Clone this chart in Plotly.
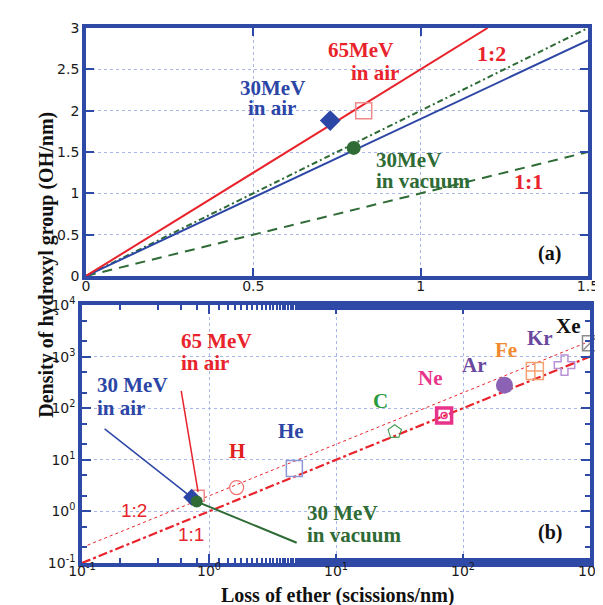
import numpy as np
import plotly.graph_objects as go

# ---------------- data: panel (a) ----------------
line12_x = [0.0, 1.2]          # 65 MeV in air fit (red)
line12_y = [0.0, 3.0]
air30_line_x = [0.0, 1.5]      # 30 MeV in air fit (blue)
air30_line_y = [0.0, 2.85]
vac30_line_x = [0.0, 1.5]      # 30 MeV in vacuum fit (green dash-dot)
vac30_line_y = [0.0, 3.0]
line11_x = [0.0, 1.5]          # 1:1 line (green dashed)
line11_y = [0.0, 1.5]

air30_pt = (0.73, 1.88)
air65_pt = (0.83, 2.00)
vac30_pt = (0.80, 1.55)

# ---------------- data: panel (b) ----------------
b_line_x = [0.1, 1000.0]
b_line12_y = [0.2, 2000.0]
b_line11_y = [0.1, 1000.0]

ions = ["H", "He", "C", "Ne", "Ar", "Fe", "Kr", "Xe"]
ion_x = [1.65, 4.7, 29.0, 71.0, 212.0, 368.0, 630.0, 1000.0]
ion_y = [2.9, 6.8, 35.0, 72.0, 280.0, 525.0, 684.0, 1820.0]

x_ticks_a = [0, 0.5, 1, 1.5]
x_tick_text_a = ["0", "0.5", "1", "1.5"]
y_ticks_a = [0, 0.5, 1, 1.5, 2, 2.5, 3]
y_tick_text_a = ["0", "0.5", "1", "1.5", "2", "2.5", "3"]
x_ticks_b = [0.1, 1, 10, 100, 1000]
x_tick_text_b = ["10<sup>-1</sup>", "10<sup>0</sup>", "10<sup>1</sup>", "10<sup>2</sup>", "10<sup>3</sup>"]
y_ticks_b = [0.1, 1, 10, 100, 1000, 10000]
y_tick_text_b = ["10<sup>-1</sup>", "10<sup>0</sup>", "10<sup>1</sup>", "10<sup>2</sup>", "10<sup>3</sup>", "10<sup>4</sup>"]

# ---------------- styles ----------------
FRAME = "#2e4aa6"
GRID = "#a9b6e6"
RED = "#e8232b"
BLUE = "#2c46a6"
GREEN = "#2e6b35"
SERIF = "Liberation Serif"
SANS = "DejaVu Sans"

fig = go.Figure()

# panel (a) lines
fig.add_trace(go.Scatter(x=line11_x, y=line11_y, mode="lines", line=dict(color=GREEN, width=2, dash="10px,7px"), xaxis="x", yaxis="y"))
fig.add_trace(go.Scatter(x=vac30_line_x, y=vac30_line_y, mode="lines", line=dict(color=GREEN, width=2, dash="6px,3px,2px,3px"), xaxis="x", yaxis="y"))
fig.add_trace(go.Scatter(x=air30_line_x, y=air30_line_y, mode="lines", line=dict(color=BLUE, width=2), xaxis="x", yaxis="y"))
fig.add_trace(go.Scatter(x=line12_x, y=line12_y, mode="lines", line=dict(color=RED, width=2), xaxis="x", yaxis="y"))
# panel (a) points
fig.add_trace(go.Scatter(x=[air30_pt[0]], y=[air30_pt[1]], mode="markers", marker=dict(symbol="diamond", size=16, color=BLUE), xaxis="x", yaxis="y"))
fig.add_trace(go.Scatter(x=[air65_pt[0]], y=[air65_pt[1]], mode="markers", marker=dict(symbol="square-open", size=16, color="#f08a8a", line=dict(width=1.5)), xaxis="x", yaxis="y"))
fig.add_trace(go.Scatter(x=[vac30_pt[0]], y=[vac30_pt[1]], mode="markers", marker=dict(symbol="circle", size=14, color=GREEN), xaxis="x", yaxis="y"))

# panel (b) lines
fig.add_trace(go.Scatter(x=b_line_x, y=b_line12_y, mode="lines", line=dict(color=RED, width=1, dash="dot"), xaxis="x2", yaxis="y2"))
fig.add_trace(go.Scatter(x=b_line_x, y=b_line11_y, mode="lines", line=dict(color=RED, width=2.2, dash="dashdot"), xaxis="x2", yaxis="y2"))

# panel (b) ion points
ion_symbols = ["circle-open", "square-open", "pentagon-open", "square-open", "circle", "square-cross-open", "cross-open", "square-open"]
ion_colors = ["#f07070", "#8a98d8", "#4aa05a", "#e8338a", "#8c62b4", "#f4a070", "#b890d8", "#8a8a8a"]
ion_sizes = [14, 16, 14, 15, 17, 17, 17, 15]
ion_lw = [1.2, 1.5, 1.2, 3.5, 0, 1.5, 1.5, 1.5]
for i in range(len(ions)):
    fig.add_trace(go.Scatter(x=[ion_x[i]], y=[ion_y[i]], mode="markers", cliponaxis=False,
                             marker=dict(symbol=ion_symbols[i], size=ion_sizes[i], color=ion_colors[i],
                                         line=dict(width=ion_lw[i], color=ion_colors[i])),
                             xaxis="x2", yaxis="y2"))
# Xe diagonal stroke
fig.add_trace(go.Scatter(x=[ion_x[-1]], y=[ion_y[-1]], mode="markers", cliponaxis=False,
                         marker=dict(symbol="line-ne-open", size=13, color="#8a8a8a", line=dict(width=1.5, color="#8a8a8a")),
                         xaxis="x2", yaxis="y2"))
# Ne inner mark
fig.add_trace(go.Scatter(x=[ion_x[3]], y=[ion_y[3]], mode="markers",
                         marker=dict(symbol="circle-open", size=6, color="#e8338a", line=dict(width=1.5, color="#e8338a")),
                         xaxis="x2", yaxis="y2"))

# panel (b) 30/65 MeV points
fig.add_trace(go.Scatter(x=[air65_pt[0]], y=[air65_pt[1]], mode="markers", marker=dict(symbol="square-open", size=11, color="#f08a8a", line=dict(width=1.5)), xaxis="x2", yaxis="y2"))
fig.add_trace(go.Scatter(x=[air30_pt[0]], y=[air30_pt[1]], mode="markers", marker=dict(symbol="diamond", size=13, color=BLUE), xaxis="x2", yaxis="y2"))
fig.add_trace(go.Scatter(x=[vac30_pt[0]], y=[vac30_pt[1]], mode="markers", marker=dict(symbol="circle", size=12, color=GREEN), xaxis="x2", yaxis="y2"))

ann = []
def lab(text, x, y, color, size=21, xa="center", xref="x", yref="y", family=SERIF, bold=True):
    t = f"<b>{text}</b>" if bold else text
    ann.append(dict(text=t, x=x, y=y, xref=xref, yref=yref, showarrow=False, xanchor=xa, yanchor="middle",
                    font=dict(family=family, size=size, color=color)))

# panel (a) labels
lab("65MeV", 0.819, 2.734, RED)
lab("in air", 0.863, 2.456, RED)
lab("1:2", 1.213, 2.697, RED, size=22)
lab("30MeV", 0.556, 2.274, BLUE)
lab("in air", 0.556, 2.032, BLUE)
lab("30MeV", 0.86, 1.403, GREEN, xa="left")
lab("in vacuum", 0.86, 1.149, GREEN, xa="left")
lab("1:1", 1.322, 1.149, RED, size=22)
lab("(a)", 1.386, 0.278, "#111111", size=20)

# panel (b) labels (log10 coordinates)
lab("30 MeV", -0.900, 2.45, BLUE, xa="left", xref="x2", yref="y2")
lab("in air", -0.900, 2.004, BLUE, xa="left", xref="x2", yref="y2")
lab("65 MeV", -0.237, 3.30, RED, xa="left", xref="x2", yref="y2")
lab("in air", -0.237, 2.876, RED, xa="left", xref="x2", yref="y2")
lab("30 MeV", 0.757, -0.031, GREEN, xa="left", xref="x2", yref="y2")
lab("in vacuum", 0.757, -0.457, GREEN, xa="left", xref="x2", yref="y2")
lab("1:2", -0.592, 0.027, RED, size=19, xref="x2", yref="y2", family="Liberation Sans", bold=False)
lab("1:1", -0.145, -0.457, RED, size=19, xref="x2", yref="y2", family="Liberation Sans", bold=False)
ion_label_colors = ["#e02020", BLUE, "#2a9a40", "#e8338a", "#6a48a0", "#f08a30", "#6a48a0", "#111111"]
ion_label_pos = [(0.218, 1.171), (0.649, 1.56), (1.351, 2.14), (1.744, 2.585), (2.091, 2.837), (2.338, 3.128), (2.607, 3.36), (2.83, 3.593)]
for name, c, (lx, ly) in zip(ions, ion_label_colors, ion_label_pos):
    lab(name, lx, ly, c, xref="x2", yref="y2")
lab("(b)", 2.684, -0.418, "#111111", size=20, xref="x2", yref="y2")

# connector lines in panel (b)
for pt, col, axp, ayp in [(air30_pt, BLUE, -89, -70), (air65_pt, RED, -18, -108), (vac30_pt, GREEN, 102, 42)]:
    ann.append(dict(text=" ", x=np.log10(pt[0]), y=np.log10(pt[1]), xref="x2", yref="y2", showarrow=True,
                    arrowhead=0, arrowwidth=1.5 if col != GREEN else 2, arrowcolor=col, ax=axp, ay=ayp, standoff=4,
                    font=dict(size=2)))

# axis titles
ann.append(dict(text="<b>Density of hydroxyl group (OH/nm)</b>", x=-0.098, y=0.557, xref="paper", yref="paper",
                showarrow=False, textangle=-90, font=dict(family=SERIF, size=20, color="#111111")))
ann.append(dict(text="<b>Loss of ether (scissions/nm)</b>", x=0.503, y=-0.060, xref="paper", yref="paper",
                showarrow=False, yanchor="middle", font=dict(family=SERIF, size=20, color="#111111")))

axis_common = dict(showline=True, linewidth=3.5, linecolor=FRAME, mirror="allticks", ticks="inside",
                   tickcolor=FRAME, tickwidth=2, showgrid=True, gridcolor=GRID, griddash="dot", gridwidth=1,
                   zeroline=False, tickfont=dict(family=SANS, size=14, color="#1a1a1a"))

fig.update_layout(
    width=603, height=605,
    margin=dict(l=74, r=10, t=20, b=50),
    plot_bgcolor="white", paper_bgcolor="white",
    showlegend=False,
    annotations=ann,
    xaxis=dict(domain=[0.0077, 0.996], range=[0, 1.5], tickvals=x_ticks_a, ticktext=x_tick_text_a,
               ticklen=8, anchor="y", ticklabelstandoff=-6, **axis_common),
    yaxis=dict(domain=[0.5364, 1.0], range=[0, 3], tickvals=y_ticks_a, ticktext=y_tick_text_a,
               ticklen=8, anchor="x", **axis_common),
    xaxis2=dict(domain=[0, 1], type="log", range=[-1, 3], tickvals=x_ticks_b, ticktext=x_tick_text_b,
                ticklen=9, anchor="y2", ticklabelstandoff=-8,
                minor=dict(ticks="inside", ticklen=5, tickwidth=2, tickcolor=FRAME, showgrid=False),
                **axis_common),
    yaxis2=dict(domain=[0, 0.4822], type="log", range=[-1, 4], tickvals=y_ticks_b, ticktext=y_tick_text_b,
                ticklen=9, anchor="x2", minor=dict(ticks="inside", ticklen=5, tickwidth=2, tickcolor=FRAME, showgrid=False),
                **axis_common),
)

fig.write_html("out.html")
